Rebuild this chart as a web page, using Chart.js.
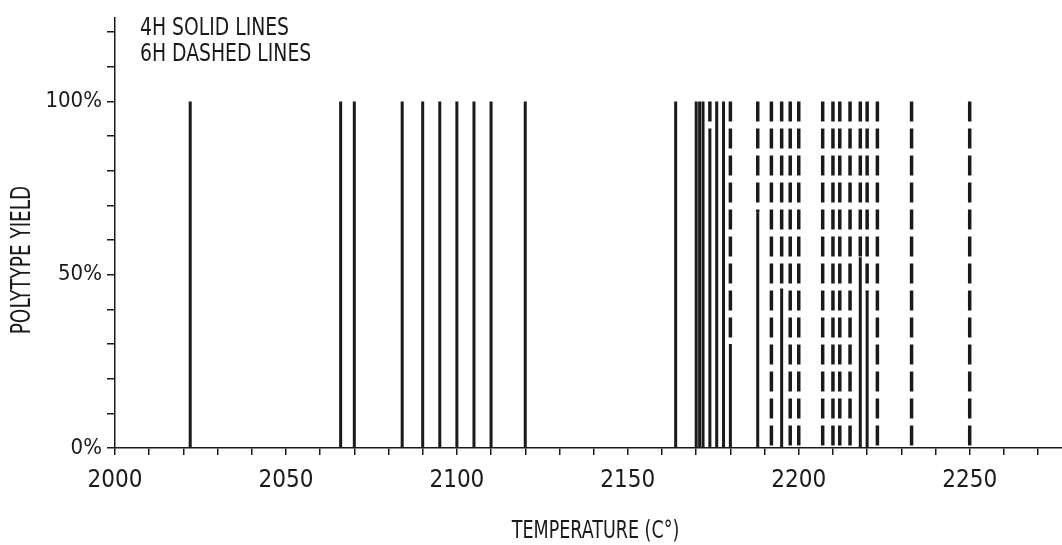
<!DOCTYPE html>
<html>
<head>
<meta charset="utf-8">
<script src="https://cdn.jsdelivr.net/npm/chart.js@4/dist/chart.umd.min.js"></script>
<style>
  html, body { margin: 0; padding: 0; background: #fff; }
  #wrap { width: 1062px; height: 545px; }
</style>
</head>
<body>
<div id="wrap"><canvas id="yieldChart"></canvas></div>
<script>
// growth temperatures (°C) and the share of each polytype at that temperature
const temps   = [2022, 2066, 2070, 2084, 2090, 2095, 2100, 2105, 2110, 2120,
                 2164, 2170, 2171, 2172, 2174, 2176, 2178, 2180, 2188, 2192, 2195,
                 2197.5, 2200, 2207, 2210, 2212, 2215, 2218, 2220, 2223, 2233, 2250];
const yield4H = [100, 100, 100, 100, 100, 100, 100, 100, 100, 100,
                 100, 100, 100, 100, 92, 100, 100, 30, 68, 0, 46,
                 0, 0, 0, 0, 0, 0, 55, 45, 0, 0, 0];
const yield6H = [0, 0, 0, 0, 0, 0, 0, 0, 0, 0,
                 0, 0, 0, 0, 8, 0, 0, 70, 32, 100, 54,
                 100, 100, 100, 100, 100, 100, 45, 55, 100, 100, 100];
const legendLines = ['4H SOLID LINES', '6H DASHED LINES'];
const xTitle = 'TEMPERATURE (C°)';
const yTitle = 'POLYTYPE YIELD';

const FONT = '"Liberation Sans Narrow", "DejaVu Sans Condensed", "Liberation Sans", sans-serif';
const INK = '#1a1a1a';

const datasets = [];
temps.forEach((t, i) => {
    const y4 = yield4H[i];
    const y6 = yield6H[i];
    if (y4 > 0) {
        datasets.push({
            data: [{x: t, y: 0}, {x: t, y: y4}],
            borderColor: INK,
            borderWidth: 3,
            pointRadius: 0
        });
    }
    if (y6 > 0) {
        // 6H sits on top of 4H, dash pattern starts at the top
        datasets.push({
            data: [{x: t, y: y4 + y6}, {x: t, y: y4}],
            borderColor: INK,
            borderWidth: 3.5,
            borderDash: [20, 7],
            borderCapStyle: 'butt',
            pointRadius: 0
        });
    }
});

// plotter-style narrow lettering for the legend note and axis titles
function narrowText(ctx, s, x, y, size, squeeze, rot, align) {
    ctx.save();
    ctx.translate(x, y);
    if (rot) ctx.rotate(rot);
    ctx.scale(squeeze, 1);
    ctx.font = size + 'px ' + FONT;
    ctx.textAlign = align;
    ctx.textBaseline = 'middle';
    ctx.fillText(s, 0, 0);
    ctx.restore();
}

const textLayer = {
    id: 'textLayer',
    afterDraw(chart) {
        const ctx = chart.ctx;
        const area = chart.chartArea;
        ctx.save();
        ctx.fillStyle = INK;
        legendLines.forEach((s, i) => narrowText(ctx, s, 140, 29 + i * 26, 24, 0.87, 0, 'left'));
        narrowText(ctx, xTitle, (area.left + area.right) / 2 + 7, 531, 25, 0.78, 0, 'center');
        narrowText(ctx, yTitle, 23, 260, 27, 0.76, -Math.PI / 2, 'center');
        ctx.restore();
    }
};

new Chart(document.getElementById('yieldChart'), {
    type: 'line',
    data: { datasets: datasets },
    options: {
        responsive: true,
        maintainAspectRatio: false,
        animation: false,
        parsing: false,
        layout: { padding: { top: 18, right: 0, left: 0, bottom: 0 } },
        plugins: {
            legend: { display: false },
            tooltip: { enabled: false }
        },
        scales: {
            x: {
                type: 'linear',
                min: 2000,
                max: 2277,
                afterFit: s => { s.height = 97; },
                border: { color: INK, width: 1.5 },
                grid: { drawOnChartArea: false, tickLength: 7, color: INK, lineWidth: 1.5 },
                ticks: {
                    stepSize: 10,
                    includeBounds: false,
                    autoSkip: false,
                    maxRotation: 0,
                    padding: 11,
                    color: INK,
                    font: { family: FONT, size: 24 },
                    callback: v => (v % 50 === 0 ? String(v) : '')
                }
            },
            y: {
                min: 0,
                max: 124,
                afterFit: s => { s.width = 115; },
                border: { color: INK, width: 1.5 },
                grid: { drawOnChartArea: false, tickLength: 8, color: INK, lineWidth: 1.5 },
                ticks: {
                    stepSize: 10,
                    includeBounds: false,
                    autoSkip: false,
                    padding: 5,
                    color: INK,
                    font: { family: FONT, size: 22 },
                    callback: v => (v % 50 === 0 ? v + '%' : '')
                }
            }
        }
    },
    plugins: [textLayer]
});
</script>
</body>
</html>
